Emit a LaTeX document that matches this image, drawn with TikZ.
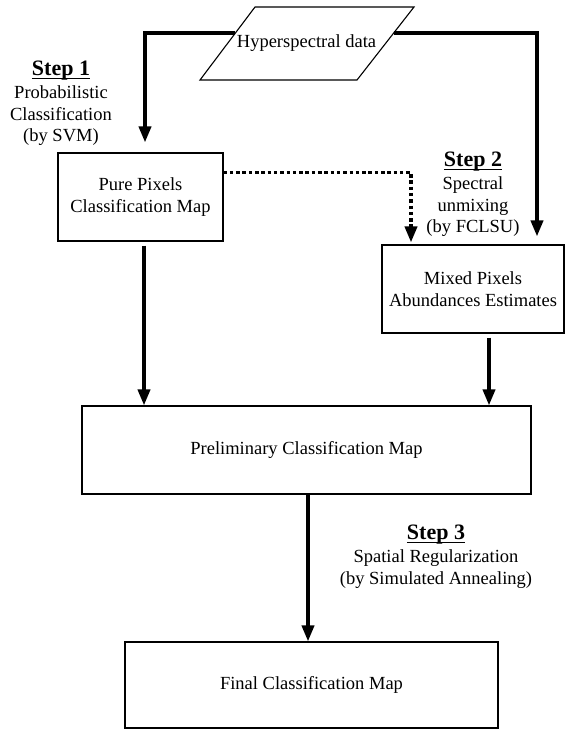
\documentclass[tikz,border=0pt]{standalone}
\usepackage{fontspec}
\setmainfont{Liberation Serif}
\usetikzlibrary{arrows.meta,calc}
\begin{document}
\begin{tikzpicture}[x=1pt,y=-1pt,
  box/.style={draw,line width=1.1pt,inner sep=0pt,align=center,font=\fontsize{18.5}{22}\selectfont},
  flow/.style={line width=3.6pt,-{Triangle[length=16pt,width=12pt]}},
  dotflow/.style={line width=3.6pt,dash pattern=on 3.5pt off 2.8pt,-{Triangle[length=16pt,width=12pt]}},
  lbl/.style={align=center,font=\fontsize{18.5}{21.5}\selectfont,inner sep=0pt},
  steplbl/.style={inner sep=0pt,font=\fontsize{22}{24}\selectfont\bfseries},
  uline/.style={line width=1.3pt}]
\useasboundingbox (0,0) rectangle (565,732);

% input parallelogram
\coordinate (p1) at (255,7);
\coordinate (p2) at (414,7);
\coordinate (p3) at (357,80);
\coordinate (p4) at (200,80);
\draw[line width=1.1pt] (p1) -- (p2) -- (p3) -- (p4) -- cycle;
\node[lbl] (data) at (306.5,43) {Hyperspectral data};
\coordinate (dl) at ($(p1)!26/73!(p4)$);
\coordinate (dr) at ($(p2)!26/73!(p3)$);

% boxes
\node[box,minimum width=165pt,minimum height=88pt] (pure) at (140.5,197) {Pure Pixels\\Classification Map};
\node[box,minimum width=182pt,minimum height=88pt] (mixed) at (473,289) {Mixed Pixels\\Abundances Estimates};
\node[box,minimum width=449pt,minimum height=88pt] (prelim) at (306.5,450) {Preliminary Classification Map};
\node[box,minimum width=373pt,minimum height=86pt] (final) at (311.5,685) {Final Classification Map};

% step labels
\node[steplbl] (s1) at (61,71) {Step 1};
\draw[uline] ([yshift=-2.5pt]s1.base west) -- ([yshift=-2.5pt]s1.base east);
\node[lbl] (s1t) at (61,116) {Probabilistic\\Classification\\(by SVM)};

\node[steplbl] (s2) at (473,162) {Step 2};
\draw[uline] ([yshift=-2.5pt]s2.base west) -- ([yshift=-2.5pt]s2.base east);
\node[lbl] (s2t) at (473,207) {Spectral\\unmixing\\(by FCLSU)};

\node[steplbl] (s3) at (436,535) {Step 3};
\draw[uline] ([yshift=-2.5pt]s3.base west) -- ([yshift=-2.5pt]s3.base east);
\node[lbl] (s3t) at (436,569) {Spatial Regularization\\(by Simulated Annealing)};

% connectors
\draw[flow,shorten >=10pt] (dl) -| ([xshift=4.5pt]pure.north);
\draw[flow,shorten >=8pt] (dr) -| ([xshift=64pt]mixed.north);
\draw[dotflow,shorten >=2pt] ([yshift=-20pt]pure.north east) -| ([xshift=-62pt]mixed.north);
\draw[flow,shorten <=4pt] ([xshift=3.5pt]pure.south) -- ([xshift=3.5pt]pure.south |- prelim.north);
\draw[flow,shorten <=4pt] ([xshift=16pt]mixed.south) -- ([xshift=16pt]mixed.south |- prelim.north);
\draw[flow] ([xshift=1.5pt]prelim.south) -- ([xshift=1.5pt]prelim.south |- final.north);
\end{tikzpicture}
\end{document}
